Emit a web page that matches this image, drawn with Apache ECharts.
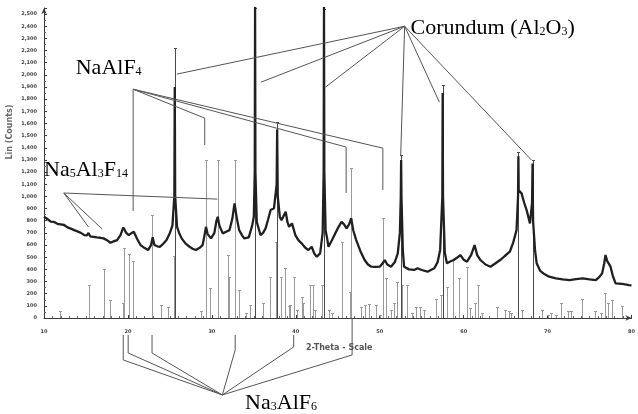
<!DOCTYPE html>
<html><head><meta charset="utf-8">
<script src="https://cdn.jsdelivr.net/npm/echarts@6/dist/echarts.min.js"></script>
<style>html,body{margin:0;padding:0;background:#fff}#c{width:638px;height:414px}</style>
</head><body><div id="c"></div>
<script>
// ---- measured scan: [2-theta, counts] ----
const scanTheta = [10.0,10.4,10.8,11.2,11.6,12.0,12.4,12.8,13.2,13.6,14.0,14.4,14.8,15.1,15.3,15.5,15.9,16.3,16.7,17.1,17.5,17.9,18.3,18.7,19.1,19.45,19.8,20.1,20.45,20.7,21.1,21.5,22.0,22.4,22.75,22.95,23.15,23.5,23.8,24.2,24.6,25.0,25.3,25.53,25.58,25.63,25.85,26.1,26.4,26.9,27.35,27.7,28.1,28.5,28.9,29.15,29.3,29.5,29.9,30.3,30.55,30.7,30.9,31.3,31.7,32.1,32.45,32.7,32.95,33.25,33.6,33.85,34.4,34.8,35.0,35.11,35.15,35.19,35.35,35.8,36.1,36.4,36.7,37.0,37.4,37.72,37.78,37.85,38.1,38.3,38.55,38.8,39.0,39.2,39.55,39.95,40.3,40.7,41.1,41.5,41.9,42.2,42.5,42.9,43.2,43.32,43.36,43.40,43.55,43.7,43.9,44.3,44.7,45.1,45.45,45.75,46.05,46.35,46.6,46.85,47.2,47.7,48.2,48.6,49.0,49.5,50.0,50.35,50.6,50.9,51.35,51.8,52.15,52.4,52.51,52.55,52.59,52.75,52.9,53.5,54.1,54.5,55.0,55.7,56.1,56.5,56.9,57.2,57.46,57.5,57.54,57.75,58.0,58.4,58.8,59.2,59.6,60.0,60.4,60.9,61.3,61.6,62.0,62.6,63.2,63.8,64.35,64.9,65.5,65.9,66.3,66.48,66.52,66.56,66.9,67.2,67.5,67.9,68.15,68.21,68.27,68.5,68.7,69.1,69.5,70.2,71.0,71.8,72.6,73.4,74.2,75.0,75.75,76.2,76.5,76.75,76.9,77.1,77.5,77.8,78.1,78.9,79.7,80.0];
const scanCounts = [833,815,792,790,775,770,765,745,735,723,712,700,682,680,700,672,668,663,660,655,640,619,630,641,680,745,700,682,700,709,650,600,575,559,600,665,600,590,586,610,641,700,760,1000,1900,1000,750,700,655,610,586,570,559,575,600,690,750,690,655,700,800,833,760,696,710,723,820,943,830,723,680,655,663,760,833,1200,2560,1200,790,682,700,737,810,888,902,1100,1550,1000,830,805,840,874,790,750,778,682,640,614,580,559,586,530,504,532,700,1200,2560,1200,720,668,586,640,696,750,792,770,737,770,820,720,641,550,477,440,422,420,422,450,477,440,422,460,532,700,1000,1300,1000,560,422,400,395,409,395,381,395,409,460,560,1000,1850,1000,540,450,465,477,495,518,480,463,520,600,520,477,440,422,450,477,510,545,620,723,1000,1330,1050,1025,950,888,778,950,1270,800,560,450,390,367,340,326,318,312,320,326,318,312,340,367,450,518,470,422,340,285,280,271,268];

// ---- reference stick patterns: [2-theta, counts] ----
const grayStickTheta = [11.9,15.35,17.1,17.9,19.4,19.5,20.07,20.66,22.9,23.9,24.8,25.45,28.7,29.3,29.8,30.7,31.9,32.1,32.7,33.2,34.1,34.5,36.1,36.9,37.6,38.25,38.7,39.2,39.35,39.75,40.1,40.7,40.9,41.7,42.0,42.3,43.1,43.9,44.35,45.55,46.4,46.6,47.8,48.2,48.7,49.6,50.0,50.4,50.8,51.35,51.75,52.0,52.7,53.2,53.8,54.3,54.8,55.3,56.7,57.25,58.05,58.7,59.4,60.4,60.8,61.3,61.75,62.2,64.0,64.9,65.4,65.7,66.9,69.3,70.05,70.4,71.0,71.65,72.4,72.8,74.15,75.6,76.4,76.8,77.2,77.7,78.9];
const grayStickCounts = [55,275,400,150,120,575,530,470,846,107,93,512,55,1299,244,1299,518,340,1299,230,41,110,120,340,627,340,408,96,110,340,68,175,120,274,274,68,274,68,41,627,216,1233,93,110,112,110,27,822,326,68,120,298,274,274,41,93,93,68,160,189,257,477,326,422,80,120,274,41,90,68,55,41,68,68,27,41,27,120,55,55,155,55,41,203,127,150,100];
const corundumTheta = [25.58,35.15,37.78,43.36,52.55,57.5,66.52,68.21];
const corundumCounts = [2220,2550,1611,2540,1340,1915,1364,1299];

// ---- annotations (data coordinates) ----
const naAlF4Leaders = [
  [[20.62,1882],[20.62,880]],
  [[20.62,1882],[29.15,1644],[29.15,1422]],
  [[20.62,1882],[46.0,1406],[46.0,1028]],
  [[20.62,1882],[50.37,1397],[50.37,1052]]
];
const corundumLeaders = [
  [[52.97,2400],[25.82,2006]],
  [[52.97,2400],[35.85,1940]],
  [[52.97,2400],[43.53,1899]],
  [[52.97,2400],[52.5,1340]],
  [[52.97,2400],[57.1,1776]],
  [[52.97,2400],[68.08,1299]]
];
const na5Leaders = [
  [[12.36,1028],[30.66,978]],
  [[12.36,1028],[15.31,748]],
  [[12.36,1028],[16.93,732]]
];
const na3Leaders = [
  [[19.44,-140],[19.44,-345],[31.25,-633]],
  [[20.03,-140],[20.03,-288],[31.25,-633]],
  [[22.87,-140],[22.87,-288],[31.25,-633]],
  [[32.78,-140],[32.78,-263],[31.25,-633]],
  [[39.75,-140],[39.75,-238],[31.25,-633]],
  [[46.71,0],[46.71,-304],[31.25,-633]]
];
const phaseLabels = [
  {pos:[13.78,2055], parts:[['n','NaAlF'],['s','4']]},
  {pos:[53.68,2384], parts:[['n','Corundum (Al'],['s','2'],['n','O'],['s','3'],['n',')']]},
  {pos:[10.0,1217], parts:[['n','Na'],['s','5'],['n','Al'],['s','3'],['n','F'],['s','14']]},
  {pos:[33.96,-699], parts:[['n','Na'],['s','3'],['n','AlF'],['s','6']]}
];

const allLeaders = [].concat(naAlF4Leaders, corundumLeaders, na5Leaders, na3Leaders);

function stickRenderer(color){
  return function(params, api){
    const x = api.value(0), h = api.value(1);
    const b = api.coord([x,0]), t = api.coord([x,h]);
    const px = Math.round(b[0]) + 0.5;
    const ty = Math.round(t[1]) + 0.5;
    return {type:'group', children:[
      {type:'line', shape:{x1:px,y1:b[1],x2:px,y2:ty}, style:{stroke:color,lineWidth:1}},
      {type:'line', shape:{x1:px-1.5,y1:ty,x2:px+1.5,y2:ty}, style:{stroke:color,lineWidth:1}}
    ]};
  };
}

const chart = echarts.init(document.getElementById('c'), null, {renderer:'canvas'});
const axisCol = '#3a3a3a';
chart.setOption({
  animation:false,
  backgroundColor:'#fff',
  grid:{left:44, right:2, top:8, bottom:96},
  xAxis:{type:'value', min:10, max:80, interval:10,
    axisLine:{lineStyle:{color:axisCol,width:1}, symbol:['none','arrow'], symbolSize:[4,6]},
    axisTick:{inside:true, length:3, lineStyle:{color:axisCol}},
    minorTick:{show:true, splitNumber:10, length:2, lineStyle:{color:'#666'}},
    splitLine:{show:false},
    axisLabel:{fontSize:5, color:'#444', margin:11, fontFamily:'DejaVu Sans', fontWeight:'bold'}
  },
  yAxis:{type:'value', min:0, max:2550, interval:100,
    axisLine:{lineStyle:{color:axisCol,width:1}, symbol:['none','arrow'], symbolSize:[4,6]},
    axisTick:{inside:true, length:3, lineStyle:{color:axisCol}},
    minorTick:{show:true, splitNumber:2, length:2, lineStyle:{color:'#666'}},
    splitLine:{show:false},
    axisLabel:{fontSize:5, color:'#444', margin:7, showMaxLabel:false, fontFamily:'DejaVu Sans', fontWeight:'bold'}
  },
  graphic:[
    {type:'text', x:306, y:344, style:{text:'2-Theta - Scale', font:'bold 8px "DejaVu Sans"', fill:'#555'}},
    {type:'text', x:10, y:132, rotation:Math.PI/2, style:{text:'Lin (Counts)', font:'bold 8px "DejaVu Sans"', fill:'#666', align:'center', verticalAlign:'middle'}}
  ],
  series:[
    {type:'custom', name:'ref', clip:true, renderItem:stickRenderer('#9a9a9a'),
      data: grayStickTheta.map((t,i)=>[t,grayStickCounts[i]]), z:1},
    {type:'custom', name:'corundum', clip:true, renderItem:stickRenderer('#4a4a4a'),
      data: corundumTheta.map((t,i)=>[t,corundumCounts[i]]), z:2},
    {type:'line', name:'scan', showSymbol:false, clip:true, z:3,
      lineStyle:{color:'#202020', width:2.3},
      data: scanTheta.map((t,i)=>[t,scanCounts[i]])},
    {type:'custom', name:'leaders', clip:false, z:4,
      data: allLeaders.map((l,i)=>[i]),
      renderItem:function(params, api){
        const pts = allLeaders[api.value(0)].map(p=>api.coord(p));
        return {type:'polyline', shape:{points:pts}, style:{stroke:'#555', lineWidth:1, fill:null}};
      }},
    {type:'custom', name:'labels', clip:false, z:5,
      data: phaseLabels.map((l,i)=>[i]),
      renderItem:function(params, api){
        const L = phaseLabels[api.value(0)];
        const p = api.coord(L.pos);
        return {type:'text', x:p[0], y:p[1], style:{
          text: L.parts.map(q=>'{'+q[0]+'|'+q[1]+'}').join(''),
          align:'left', verticalAlign:'middle',
          rich:{
            n:{fontFamily:'Liberation Serif', fontSize:22, color:'#2e2e2e', lineHeight:24, verticalAlign:'middle'},
            s:{fontFamily:'Liberation Serif', fontSize:12, color:'#2e2e2e', lineHeight:24, verticalAlign:'bottom', padding:[0,0,2,0]}
          }
        }};
      }}
  ]
});
</script></body></html>
